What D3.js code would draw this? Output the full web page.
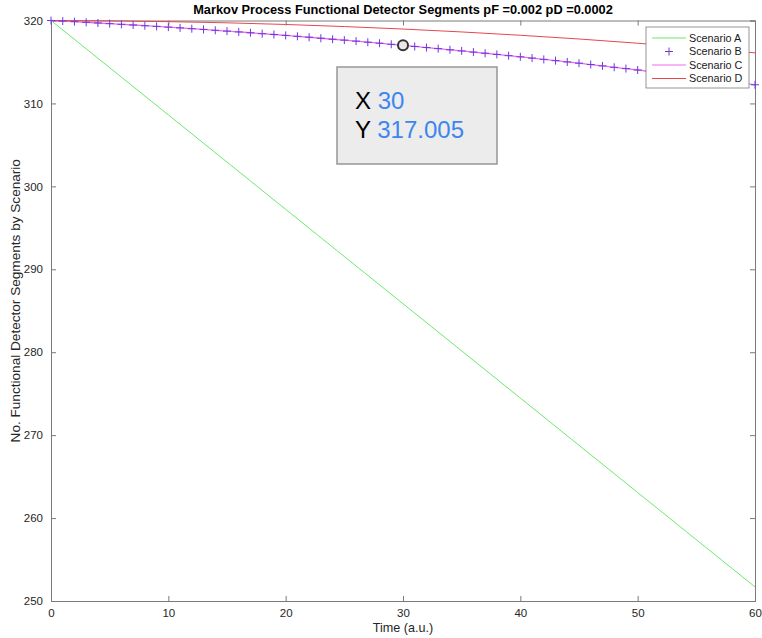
<!DOCTYPE html>
<html lang="en">
<head>
    <meta charset="utf-8">
    <title>Markov Process Functional Detector Segments</title>
    <style>
        body {
            margin: 0;
            background: #fff;
            font-family: "Liberation Sans", Arial, sans-serif;
        }
        .axis text {
            font-size: 11.5px;
            fill: #262626;
        }
        .axis path, .axis line {
            stroke: #7a7a7a;
        }
    </style>
</head>
<body>
    <div id="chart"></div>

    <script src="https://d3js.org/d3.v7.min.js"></script>
    <script>
        // Data
        const timeSteps = d3.range(0, 61);            // Scenario B / C sampled every step
        const timeCoarse = [0, 10, 20, 30, 40, 50, 60];
        const timeD = [0, 5, 10, 15, 20, 25, 30, 35, 40, 45, 50, 55, 60];

        const scenarioA = [320, 308.62, 297.23, 285.85, 274.47, 263.08, 251.7];

        const scenarioB = [
            320.00, 319.93, 319.86, 319.78, 319.70, 319.62, 319.54, 319.46, 319.37, 319.29,
            319.20, 319.11, 319.01, 318.92, 318.82, 318.72, 318.62, 318.52, 318.41, 318.31,
            318.20, 318.09, 317.98, 317.86, 317.74, 317.63, 317.51, 317.38, 317.26, 317.13,
            317.005, 316.87, 316.74, 316.61, 316.47, 316.33, 316.19, 316.05, 315.91, 315.76,
            315.62, 315.47, 315.31, 315.16, 315.00, 314.85, 314.69, 314.53, 314.36, 314.20,
            314.03, 313.86, 313.69, 313.52, 313.34, 313.16, 312.99, 312.80, 312.62, 312.44,
            312.25
        ];
        const scenarioC = scenarioB.slice();

        const scenarioD = [320, 319.96, 319.86, 319.72, 319.52, 319.27, 318.97, 318.62,
            318.22, 317.77, 317.26, 316.71, 316.10];

        const xTicks = [0, 10, 20, 30, 40, 50, 60];
        const yTicks = [250, 260, 270, 280, 290, 300, 310, 320];
        const legendNames = ["Scenario A", "Scenario B", "Scenario C", "Scenario D"];
        const tipPoint = {x: 30, y: 317.005};

        const width = 762, height = 638;
        const margin = {top: 20.5, right: 7, bottom: 37, left: 51};

        const colors = {
            A: "#6ee86e",
            B: "#6b3ae0",
            C: "#ee6cee",
            D: "#e6474f"
        };

        const svg = d3.select("#chart")
            .append("svg")
            .attr("width", width)
            .attr("height", height);

        const x = d3.scaleLinear()
            .domain([0, 60])
            .range([margin.left, width - margin.right]);

        const y = d3.scaleLinear()
            .domain([250, 320])
            .range([height - margin.bottom, margin.top]);

        // Axes (MATLAB style box, ticks pointing inwards)
        svg.append("g")
            .attr("class", "axis")
            .attr("transform", `translate(0,${y(250)})`)
            .call(d3.axisBottom(x).tickValues(xTicks).tickSize(-5).tickPadding(10))
            .call(g => g.selectAll("text").attr("dy", "0.5em"));

        svg.append("g")
            .attr("class", "axis")
            .attr("transform", `translate(0,${y(320)})`)
            .call(d3.axisTop(x).tickValues(xTicks).tickSize(-5).tickFormat(""));

        svg.append("g")
            .attr("class", "axis")
            .attr("transform", `translate(${x(0)},0)`)
            .call(d3.axisLeft(y).tickValues(yTicks).tickSize(-5).tickPadding(8));

        svg.append("g")
            .attr("class", "axis")
            .attr("transform", `translate(${x(60)},0)`)
            .call(d3.axisRight(y).tickValues(yTicks).tickSize(-5).tickFormat(""));

        // Lines
        const line = d3.line().x(d => x(d[0])).y(d => y(d[1]));

        svg.append("path")
            .datum(d3.zip(timeCoarse, scenarioA))
            .attr("fill", "none")
            .attr("stroke", colors.A)
            .attr("stroke-width", 1)
            .attr("d", line);

        svg.append("path")
            .datum(d3.zip(timeSteps, scenarioC))
            .attr("fill", "none")
            .attr("stroke", colors.C)
            .attr("stroke-width", 1.3)
            .attr("d", line);

        svg.append("path")
            .datum(d3.zip(timeD, scenarioD))
            .attr("fill", "none")
            .attr("stroke", colors.D)
            .attr("stroke-width", 1)
            .attr("d", d3.line().curve(d3.curveMonotoneX).x(d => x(d[0])).y(d => y(d[1])));

        // Scenario B plus markers
        svg.append("g")
            .selectAll("path")
            .data(d3.zip(timeSteps, scenarioB))
            .join("path")
            .attr("d", d => {
                const cx = x(d[0]), cy = y(d[1]), r = 4;
                return `M${cx - r},${cy}H${cx + r}M${cx},${cy - r}V${cy + r}`;
            })
            .attr("stroke", colors.B)
            .attr("stroke-width", 1)
            .attr("fill", "none");

        // Title and axis labels
        svg.append("text")
            .attr("x", (x(0) + x(60)) / 2)
            .attr("y", 14)
            .attr("text-anchor", "middle")
            .attr("font-size", 12.8)
            .attr("font-weight", "bold")
            .attr("fill", "#000")
            .text("Markov Process Functional Detector Segments pF =0.002 pD =0.0002");

        svg.append("text")
            .attr("x", (x(0) + x(60)) / 2)
            .attr("y", 632)
            .attr("text-anchor", "middle")
            .attr("font-size", 12.6)
            .attr("fill", "#262626")
            .text("Time (a.u.)");

        svg.append("text")
            .attr("transform", `translate(20,${(y(250) + y(320)) / 2 - 10}) rotate(-90)`)
            .attr("text-anchor", "middle")
            .attr("font-size", 13.6)
            .attr("fill", "#262626")
            .text("No. Functional Detector Segments by Scenario");

        // Legend
        const legend = svg.append("g").attr("transform", "translate(646,27)");
        legend.append("rect")
            .attr("width", 103)
            .attr("height", 61)
            .attr("fill", "#fff")
            .attr("stroke", "#7a7a7a")
            .attr("stroke-width", 0.8);

        const legendColors = [colors.A, colors.B, colors.C, colors.D];
        legendNames.forEach((name, i) => {
            const ly = 11 + i * 13.5;
            if (i === 1) {
                legend.append("path")
                    .attr("d", `M${23 - 4},${ly}H${23 + 4}M23,${ly - 4}V${ly + 4}`)
                    .attr("stroke", legendColors[i])
                    .attr("fill", "none");
            } else {
                legend.append("line")
                    .attr("x1", 6).attr("x2", 40)
                    .attr("y1", ly).attr("y2", ly)
                    .attr("stroke", legendColors[i])
                    .attr("stroke-width", 1.2);
            }
            legend.append("text")
                .attr("x", 43)
                .attr("y", ly + 3.5)
                .attr("font-size", 10.8)
                .attr("fill", "#1a1a1a")
                .text(name);
        });

        // Data tip
        svg.append("circle")
            .attr("cx", x(tipPoint.x))
            .attr("cy", y(tipPoint.y))
            .attr("r", 5)
            .attr("fill", "#e8e8e8")
            .attr("stroke", "#333")
            .attr("stroke-width", 2);

        const tip = svg.append("g").attr("transform", "translate(337,67)");
        tip.append("rect")
            .attr("width", 160)
            .attr("height", 97)
            .attr("fill", "#ececec")
            .attr("stroke", "#969696")
            .attr("stroke-width", 1.5);

        [["X", tipPoint.x], ["Y", tipPoint.y.toFixed(3)]].forEach((row, i) => {
            const t = tip.append("text")
                .attr("x", 18)
                .attr("y", 42 + i * 29)
                .attr("font-size", 24)
                .attr("xml:space", "preserve");
            t.append("tspan").attr("fill", "#000").text(row[0] + " ");
            t.append("tspan").attr("fill", "#3d85f0").text(row[1]);
        });
    </script>
</body>
</html>
